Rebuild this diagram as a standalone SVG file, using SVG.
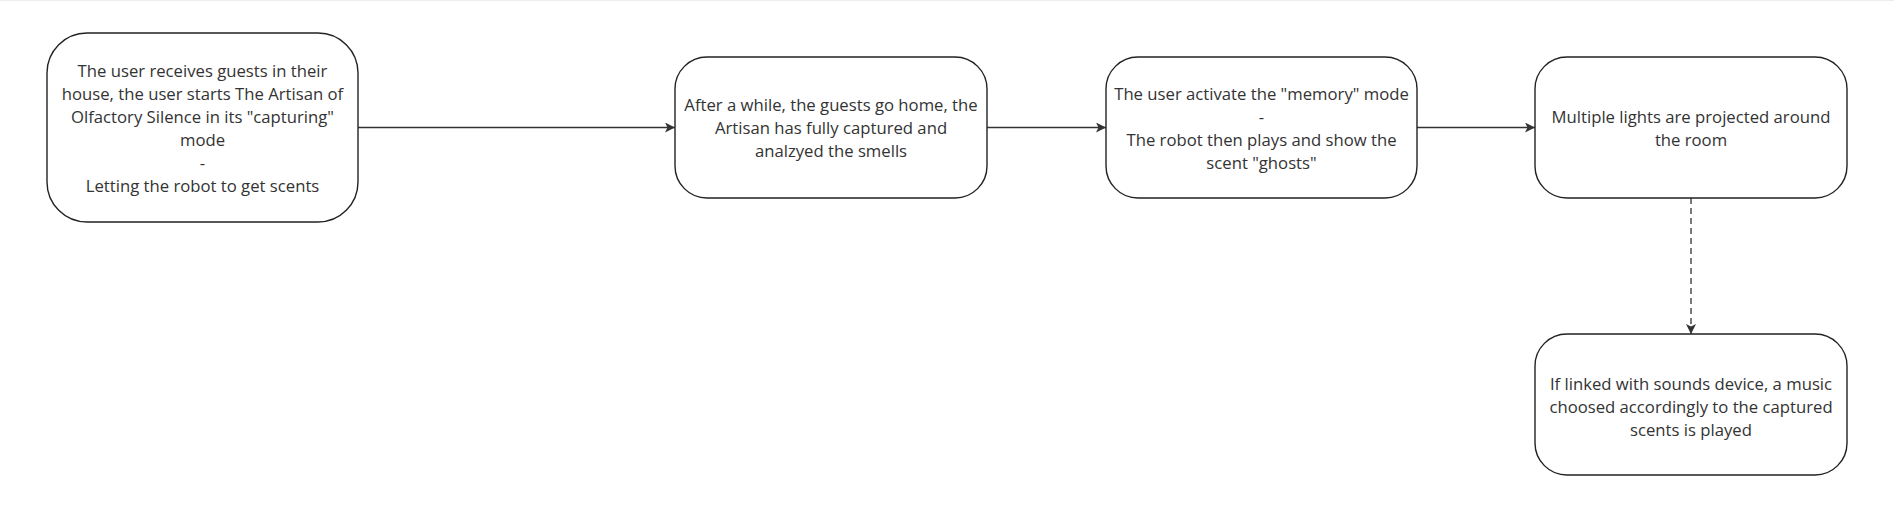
<svg xmlns="http://www.w3.org/2000/svg" width="1894" height="527" viewBox="0 0 1894 527">
<defs>
<style>
.box{fill:#fff;stroke:#222;stroke-width:1.4}
.t{font-family:"Open Sans","Noto Sans",sans-serif;font-size:16.7px;fill:#333;text-anchor:middle}
.c{stroke:#333;stroke-width:1.3;fill:none}
</style>
<marker id="ah" viewBox="0 0 10 10" refX="10" refY="5" markerWidth="10" markerHeight="10" markerUnits="userSpaceOnUse" orient="auto">
<path d="M0,0 L10,5 L0,10 L2.5,5 Z" fill="#333"/>
</marker>
</defs>
<rect width="1894" height="527" fill="#fff"/>
<line x1="0" y1="0.5" x2="1894" y2="0.5" stroke="#eee" stroke-width="1"/>
<g id="connectors">
<line class="c" x1="358" y1="127.5" x2="675" y2="127.5" marker-end="url(#ah)"/>
<line class="c" x1="987" y1="127.5" x2="1106" y2="127.5" marker-end="url(#ah)"/>
<line class="c" x1="1417" y1="127.5" x2="1535" y2="127.5" marker-end="url(#ah)"/>
<line class="c" x1="1691" y1="198" x2="1691" y2="334" stroke-dasharray="6 4" marker-end="url(#ah)"/>
</g>
<g id="node1">
<rect class="box" x="47" y="33" width="311" height="189" rx="40"/>
<text class="t" x="202.5" y="77">The user receives guests in their</text>
<text class="t" x="202.5" y="100">house, the user starts The Artisan of</text>
<text class="t" x="202.5" y="123">Olfactory Silence in its "capturing"</text>
<text class="t" x="202.5" y="146">mode</text>
<text class="t" x="202.5" y="169">-</text>
<text class="t" x="202.5" y="192">Letting the robot to get scents</text>
</g>
<g id="node2">
<rect class="box" x="675" y="57" width="312" height="141" rx="32"/>
<text class="t" x="831" y="111">After a while, the guests go home, the</text>
<text class="t" x="831" y="134">Artisan has fully captured and</text>
<text class="t" x="831" y="157">analzyed the smells</text>
</g>
<g id="node3">
<rect class="box" x="1106" y="57" width="311" height="141" rx="32"/>
<text class="t" x="1261.5" y="100">The user activate the "memory" mode</text>
<text class="t" x="1261.5" y="123">-</text>
<text class="t" x="1261.5" y="146">The robot then plays and show the</text>
<text class="t" x="1261.5" y="169">scent "ghosts"</text>
</g>
<g id="node4">
<rect class="box" x="1535" y="57" width="312" height="141" rx="32"/>
<text class="t" x="1691" y="123">Multiple lights are projected around</text>
<text class="t" x="1691" y="146">the room</text>
</g>
<g id="node5">
<rect class="box" x="1535" y="334" width="312" height="141" rx="32"/>
<text class="t" x="1691" y="390">If linked with sounds device, a music</text>
<text class="t" x="1691" y="413">choosed accordingly to the captured</text>
<text class="t" x="1691" y="436">scents is played</text>
</g>
</svg>
